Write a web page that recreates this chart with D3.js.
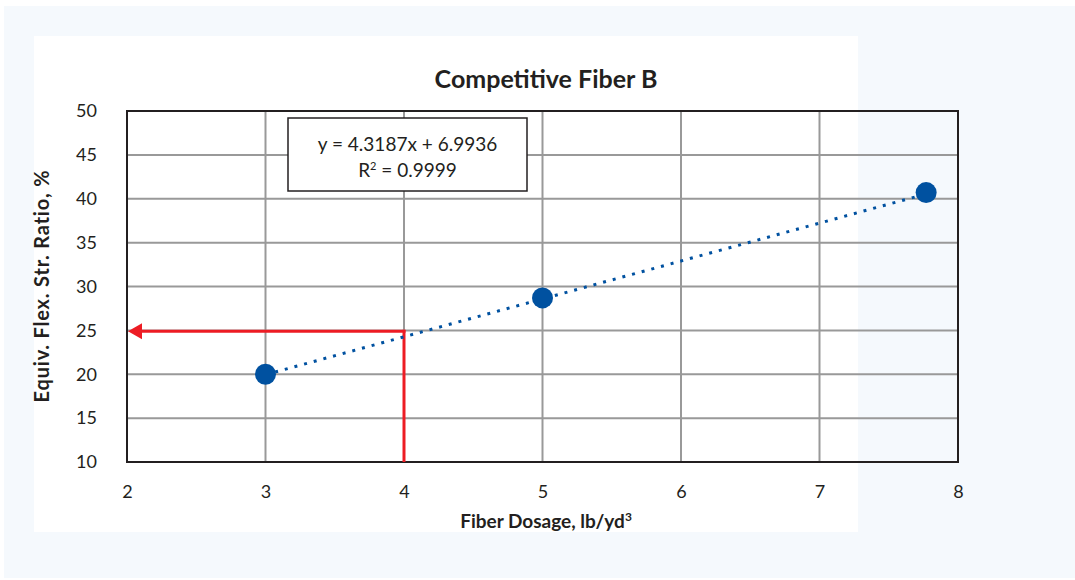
<!DOCTYPE html>
<html><head><meta charset="utf-8">
<script src="https://cdn.jsdelivr.net/npm/d3@7"></script>
<style>body{margin:0;background:#fff;}svg{display:block;font-family:Lato,"Open Sans",sans-serif;}</style>
</head><body><svg id="c" width="1075" height="580"></svg>
<script>
const dosage = [3, 5, 7.77];
const ratio = [20.0, 28.7, 40.7];
const xTicks = [2, 3, 4, 5, 6, 7, 8];
const yTicks = [10, 15, 20, 25, 30, 35, 40, 45, 50];
const slope = 4.3187, intercept = 6.9936;
const readX = 4, readY = 24.9;
const eqLines = ["y = 4.3187x + 6.9936", "R² = 0.9999"];

const svg = d3.select("#c");
svg.append("rect").attr("x",4).attr("y",6).attr("width",1071).attr("height",572).attr("fill","#f5f9fd");
svg.append("rect").attr("x",34).attr("y",36).attr("width",824).attr("height",496).attr("fill","#fff");

const x = d3.scaleLinear().domain([2,8]).range([127,958]);
const y = d3.scaleLinear().domain([10,50]).range([462,111]);

// grid
svg.append("g").selectAll("line").data(xTicks.slice(1,-1)).join("line")
  .attr("x1",d=>x(d)).attr("x2",d=>x(d)).attr("y1",y(50)).attr("y2",y(10))
  .attr("stroke","#999").attr("stroke-width",2);
svg.append("g").selectAll("line").data(yTicks.slice(1,-1)).join("line")
  .attr("x1",x(2)).attr("x2",x(8)).attr("y1",d=>y(d)).attr("y2",d=>y(d))
  .attr("stroke","#999").attr("stroke-width",2);

// axes labels via d3 axes (no lines)
const xa = svg.append("g").attr("transform",`translate(0,${y(10)})`)
  .call(d3.axisBottom(x).tickValues(xTicks).tickFormat(d3.format("d")).tickSize(0).tickPadding(23));
const ya = svg.append("g").attr("transform",`translate(${x(2)},0)`)
  .call(d3.axisLeft(y).tickValues(yTicks).tickFormat(d3.format("d")).tickSize(0).tickPadding(30));
[xa,ya].forEach(a=>{a.select(".domain").remove();
  a.selectAll("text").attr("font-size",18).attr("fill","#231f20").attr("font-family","Lato, sans-serif");});

// plot border
svg.append("rect").attr("x",x(2)).attr("y",y(50)).attr("width",x(8)-x(2)).attr("height",y(10)-y(50))
  .attr("fill","none").attr("stroke","#231f20").attr("stroke-width",2);

// equation box
const bx=288, by=118, bw=239, bh=73;
svg.append("rect").attr("x",bx).attr("y",by).attr("width",bw).attr("height",bh)
  .attr("fill","#fff").attr("stroke","#231f20").attr("stroke-width",1.5);
svg.append("text").attr("x",bx+bw/2).attr("y",by+33).attr("text-anchor","middle")
  .attr("font-size",19).attr("fill","#231f20").text(eqLines[0]);
const t2 = svg.append("text").attr("x",bx+bw/2).attr("y",by+59).attr("text-anchor","middle")
  .attr("font-size",19).attr("fill","#231f20");
t2.append("tspan").text("R");
t2.append("tspan").attr("font-size",11).attr("dy",-7).text("2");
t2.append("tspan").attr("dy",7).text(" = 0.9999");

// red reading lines
svg.append("line").attr("x1",x(readX)).attr("x2",x(readX)).attr("y1",y(10)).attr("y2",y(readY)-1.5)
  .attr("stroke","#ed1c24").attr("stroke-width",3);
svg.append("line").attr("x1",x(readX)+1.5).attr("x2",x(2)+12).attr("y1",y(readY)).attr("y2",y(readY))
  .attr("stroke","#ed1c24").attr("stroke-width",3);
svg.append("path").attr("d",`M${x(2)+1},${y(readY)} L${x(2)+15},${y(readY)-8} L${x(2)+15},${y(readY)+8} Z`)
  .attr("fill","#ed1c24");

// trendline
const x0 = dosage[0], x1 = dosage[dosage.length-1];
svg.append("line").attr("x1",x(x0)).attr("y1",y(slope*x0+intercept))
  .attr("x2",x(x1)).attr("y2",y(slope*x1+intercept))
  .attr("stroke","#0051a0").attr("stroke-width",3).attr("stroke-dasharray","3 7");

// points
svg.append("g").selectAll("circle").data(dosage).join("circle")
  .attr("cx",d=>x(d)).attr("cy",(d,i)=>y(ratio[i])).attr("r",10.5).attr("fill","#0051a0");

// titles
svg.append("text").attr("x",546).attr("y",88).attr("text-anchor","middle")
  .attr("font-size",25).attr("font-weight","bold").attr("fill","#231f20").text("Competitive Fiber B");
const xl = svg.append("text").attr("x",546).attr("y",528).attr("text-anchor","middle")
  .attr("font-size",19).attr("font-weight","bold").attr("fill","#231f20");
xl.append("tspan").text("Fiber Dosage, lb/yd");
xl.append("tspan").attr("font-size",12).attr("dy",-7).text("3");
svg.append("text").attr("transform","translate(49,286) rotate(-90)").attr("text-anchor","middle")
  .attr("font-size",20).attr("letter-spacing",0.8).attr("font-weight","bold").attr("fill","#231f20").text("Equiv. Flex. Str. Ratio, %");
</script></body></html>
